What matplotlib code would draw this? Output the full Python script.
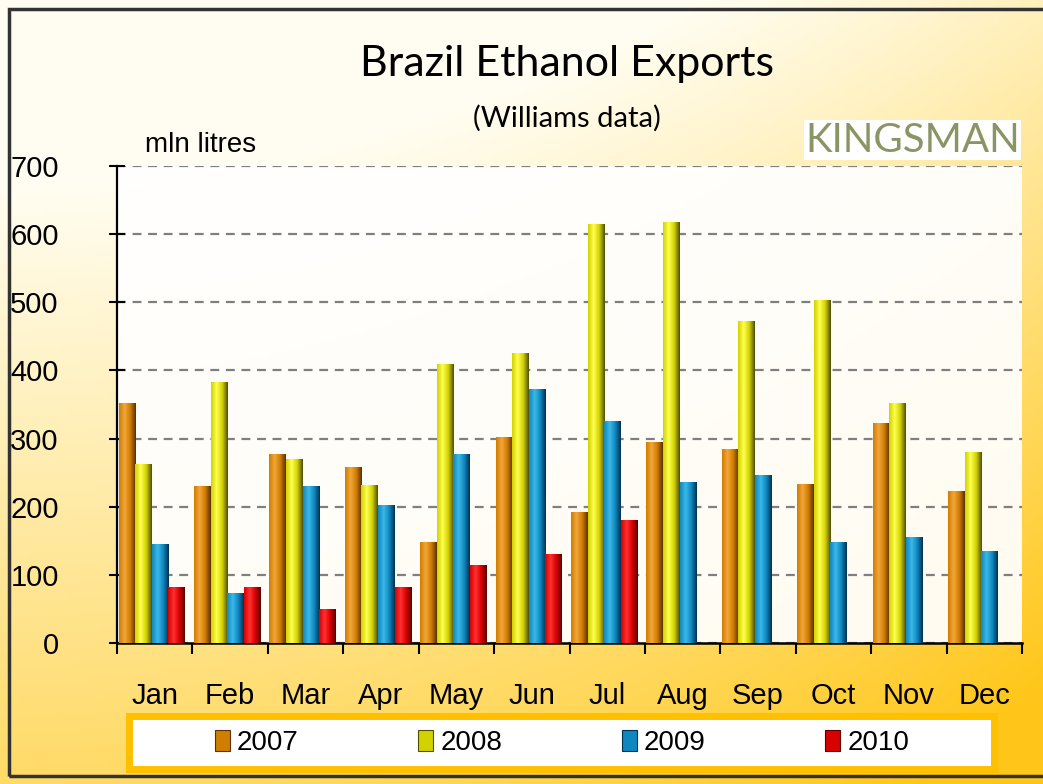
import numpy as np
import matplotlib
matplotlib.use('Agg')
import matplotlib.pyplot as plt
from matplotlib.patches import Rectangle, Patch
from matplotlib.colors import LinearSegmentedColormap

months = ['Jan', 'Feb', 'Mar', 'Apr', 'May', 'Jun', 'Jul', 'Aug', 'Sep', 'Oct', 'Nov', 'Dec']
years = ['2007', '2008', '2009', '2010']
v2007 = [352, 231, 278, 258, 148, 302, 192, 295, 285, 234, 323, 223]
v2008 = [262, 383, 270, 232, 409, 426, 615, 618, 472, 504, 352, 280]
v2009 = [145, 73, 231, 203, 278, 373, 326, 237, 247, 148, 156, 135]
v2010 = [82, 82, 50, 82, 115, 130, 181, np.nan, np.nan, np.nan, np.nan, np.nan]
series = [v2007, v2008, v2009, v2010]
yticks = [0, 100, 200, 300, 400, 500, 600, 700]

# dark edge, base, highlight for each year (fake cylinder shading)
shades = [('#5e3000', '#d07e00', '#f2a63a'),
          ('#505000', '#d2d200', '#ffff50'),
          ('#00324e', '#0f88c0', '#3cb8e8'),
          ('#5a0000', '#d80000', '#ff3030')]

W, H = 1043, 784
fig = plt.figure(figsize=(W / 100, H / 100), dpi=100)

# background: cream top-left fading to warm yellow/orange bottom
yy, xx = np.mgrid[0:1:200j, 0:1:260j]
t = np.clip(0.85 * yy + 0.45 * xx ** 2 - 0.2, 0, 1)
top = np.array([1.0, 0.995, 0.95])
bot = np.array([1.0, 0.78, 0.10])
img = top * (1 - t[..., None]) + bot * t[..., None]
bg = fig.add_axes([0, 0, 1, 1])
bg.imshow(img, aspect='auto', extent=[0, 1, 0, 1], origin='upper')
bg.set_xlim(0, 1)
bg.set_ylim(0, 1)
bg.axis('off')
bg.add_patch(Rectangle((9 / W, 8 / H), 1.2, (H - 17) / H, fill=False,
                       edgecolor='#333333', lw=2.5))

ax = fig.add_axes([117 / W, (H - 643) / H, (1022 - 117) / W, (643 - 166) / H])
ax.set_facecolor((1, 1, 1, 0.93))

x = np.arange(len(months))
bw = 0.22
for i, vals in enumerate(series):
    dark, base, light = shades[i]
    cmap = LinearSegmentedColormap.from_list('c%d' % i, [base, light, base, dark])
    grad = np.linspace(0, 1, 64).reshape(1, -1)
    bars = ax.bar(x + (i - 1.5) * bw - 0.04, vals, bw, color=base,
                  edgecolor='none', zorder=3)
    for b in bars:
        if not b.get_height() > 0:
            continue
        im = ax.imshow(grad, cmap=cmap, aspect='auto', zorder=3.5,
                       extent=[b.get_x(), b.get_x() + b.get_width(), 0, b.get_height()])
        im.set_clip_path(b)

ax.set_xlim(-0.5, 11.5)
ax.set_ylim(0, 700)
ax.set_yticks(yticks)
ax.set_yticklabels([str(v) for v in yticks], fontsize=21, family='Liberation Sans')
ax.yaxis.grid(True, color='#7f7f7f', lw=1.6, linestyle=(0, (4, 3)), zorder=1)
ax.tick_params(axis='y', direction='inout', length=12, width=1.5, pad=36)

ax.set_xticks(np.arange(-0.5, 12, 1))
ax.set_xticklabels([])
ax.set_xticks(x, minor=True)
ax.set_xticklabels(months, minor=True, fontsize=21, family='Liberation Sans')
ax.tick_params(axis='x', which='major', direction='out', length=8, width=1.5)
ax.tick_params(axis='x', which='minor', length=0, pad=28)

for s in ['top', 'right']:
    ax.spines[s].set_visible(False)
ax.spines['left'].set_linewidth(1.6)
ax.spines['bottom'].set_linewidth(1.8)

fig.text(567 / W, 1 - 64 / H, 'Brazil Ethanol Exports', ha='center', va='center',
         fontsize=31, family='Lato')
fig.text(567 / W, 1 - 118 / H, '(Williams data)', ha='center', va='center',
         fontsize=21, family='Lato')
fig.text(145 / W, 1 - 145 / H, 'mln litres', ha='left', va='center',
         fontsize=20, family='Liberation Sans')
fig.text(1020 / W, 1 - 140 / H, 'KINGSMAN', ha='right', va='center',
         fontsize=29, color='#8a9566', family='Lato',
         bbox=dict(facecolor='white', edgecolor='none', pad=1))

# legend box
bg.add_patch(Rectangle((129 / W, (H - 769) / H), (994 - 129) / W, (769 - 716) / H,
                       facecolor='white', edgecolor='#ffc000', lw=5, zorder=5))
handles = [Patch(facecolor=shades[i][1], edgecolor=shades[i][0], lw=0.8) for i in range(4)]
leg = fig.legend(handles, years, loc='center', bbox_to_anchor=(562 / W, 1 - 743 / H),
                 ncol=4, frameon=False, prop={'family': 'Liberation Sans', 'size': 20},
                 handlelength=0.55, handleheight=0.8, handletextpad=0.25, columnspacing=4.3)

fig.savefig('out.png', dpi=100)
